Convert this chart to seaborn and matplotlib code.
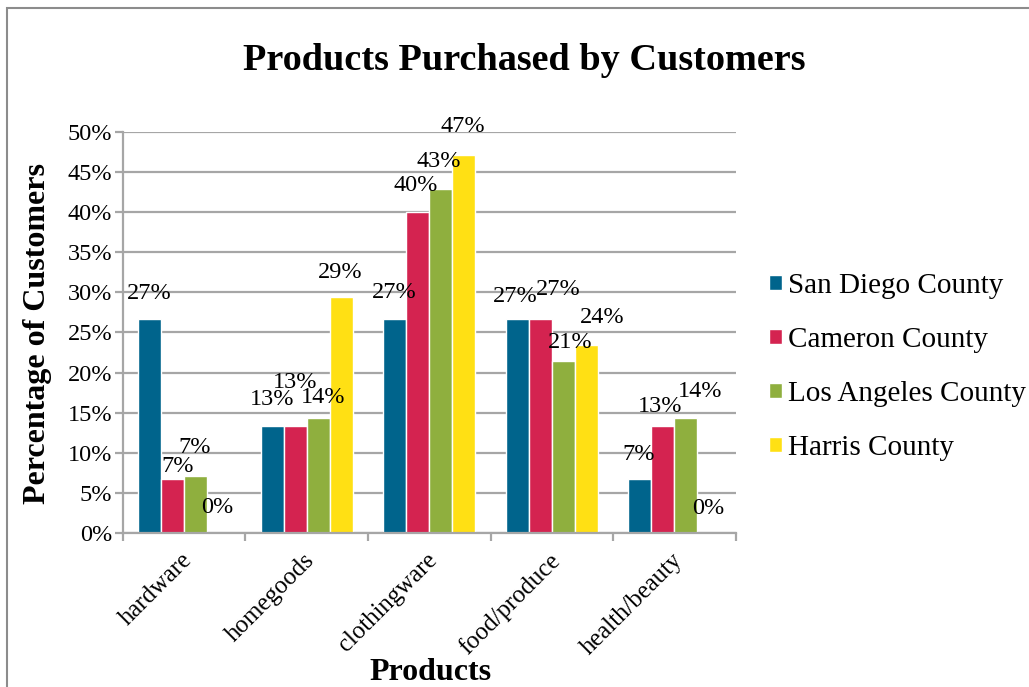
import matplotlib
matplotlib.use("Agg")
import matplotlib.pyplot as plt
import matplotlib.ticker as mticker
import matplotlib.transforms as mtransforms
from matplotlib.patches import Rectangle
import pandas as pd
import seaborn as sns

# ---- data -------------------------------------------------------------
products = ["hardware", "homegoods", "clothingware", "food/produce", "health/beauty"]
counties = ["San Diego County", "Cameron County", "Los Angeles County", "Harris County"]

san_diego = [0.267, 0.133, 0.267, 0.267, 0.067]
cameron = [0.067, 0.133, 0.400, 0.267, 0.133]
los_angeles = [0.071, 0.143, 0.429, 0.214, 0.143]
harris = [0.000, 0.294, 0.471, 0.235, 0.000]

series = [san_diego, cameron, los_angeles, harris]
colors = ["#00648C", "#D42350", "#8FAF3E", "#FFE014"]

# value-label nudges in pixels: (right, above the bar top)
label_nudge = [
    [(0, 25), (0, 27), (0, 26), (-2, 22), (-1, 25)],
    [(5, 13), (0, 44), (-2, 27), (18, 29), (-3, 20)],
    [(-1, 29), (5, 21), (-2, 27), (7, 19), (14, 27)],
    [(-1, 26), (-1, 25), (-1, 28), (16, 27), (-1, 25)],
]

df = pd.DataFrame(
    [(p, c, s[j]) for c, s in zip(counties, series) for j, p in enumerate(products)],
    columns=["product", "county", "share"],
)

# ---- style ------------------------------------------------------------
sns.set_theme(style="white")
plt.rcParams["font.family"] = ["Liberation Serif", "DejaVu Serif"]
plt.rcParams.update({
    "text.color": "black", "axes.labelcolor": "black",
    "xtick.color": "black", "ytick.color": "black",
})
GRAY = "#A6A6A6"
PX = 0.72  # points per pixel at 100 dpi

fig = plt.figure(figsize=(10.29, 6.87), dpi=100)
ax = fig.add_axes([122.7 / 1029, 153.7 / 687, 613 / 1029, 401.6 / 687])

sns.barplot(
    data=df, x="product", y="share", hue="county",
    order=products, hue_order=counties, palette=colors,
    width=0.75, saturation=1, errorbar=None, ax=ax,
)

ax.set_xlim(-0.5, len(products) - 0.5)
ax.set_ylim(0, 0.5)
ax.yaxis.set_major_locator(mticker.MultipleLocator(0.05))
ax.yaxis.set_major_formatter(mticker.PercentFormatter(1.0, decimals=0))
ax.yaxis.grid(True, color=GRAY, lw=1.6)
ax.set_axisbelow(True)

for side in ("top", "right"):
    ax.spines[side].set_visible(False)
for side in ("left", "bottom"):
    ax.spines[side].set_color(GRAY)
    ax.spines[side].set_linewidth(1.6)

ax.tick_params(axis="y", which="major", left=True, length=6, width=1.6,
               color=GRAY, pad=1.5, labelsize=17.5, labelcolor="black")
ax.set_xticks(range(len(products)))
ax.set_xticklabels(products, rotation=45, ha="right", va="center",
                   rotation_mode="anchor")
ax.set_xticks([i - 0.5 for i in range(len(products) + 1)], minor=True)
ax.tick_params(axis="x", which="major", bottom=True, length=0, pad=17,
               labelsize=17.8, labelcolor="black")
ax.tick_params(axis="x", which="minor", bottom=True, length=6, width=1.6,
               color=GRAY)
shift = mtransforms.ScaledTranslation(5 / 100, 0, fig.dpi_scale_trans)
for lbl in ax.get_xticklabels():
    lbl.set_transform(lbl.get_transform() + shift)
ax.set_xlabel("")
ax.set_ylabel("")

# value labels above each bar
for i, cont in enumerate(ax.containers):
    for j, bar in enumerate(cont):
        value = series[i][j]
        dx, dy = label_nudge[i][j]
        ax.annotate(
            f"{value:.0%}",
            xy=(bar.get_x() + bar.get_width() / 2, value),
            xytext=(dx * PX, dy * PX), textcoords="offset points",
            ha="center", va="center", fontsize=17.5, color="black",
            annotation_clip=False,
        )

# legend on the right
handles, labels = ax.get_legend_handles_labels()
ax.get_legend().remove()
fig.legend(
    handles, labels, loc="center left",
    bbox_to_anchor=(769 / 1029, 1 - 367 / 687),
    frameon=False, fontsize=21, handlelength=0.45, handleheight=0.45,
    handletextpad=0.2, labelspacing=0.96, borderpad=0, borderaxespad=0,
    labelcolor="black",
)

# titles
fig.text(524 / 1029, 1 - 60 / 687, "Products Purchased by Customers",
         ha="center", va="center", fontsize=27.5, fontweight="bold")
fig.text(38 / 1029, 1 - 333 / 687, "Percentage of Customers", rotation=90,
         ha="center", va="center", fontsize=23, fontweight="bold")
fig.text(431 / 1029, 1 - 672 / 687, "Products",
         ha="center", va="center", fontsize=23, fontweight="bold")

# chart-area frame
fig.patches.append(Rectangle((7 / 1029, -0.2), 1.2, 1.2 - 8 / 687,
                             transform=fig.transFigure, fill=False,
                             edgecolor="#8C8C8C", lw=1.5))

fig.savefig("out.png", dpi=100, facecolor="white")
